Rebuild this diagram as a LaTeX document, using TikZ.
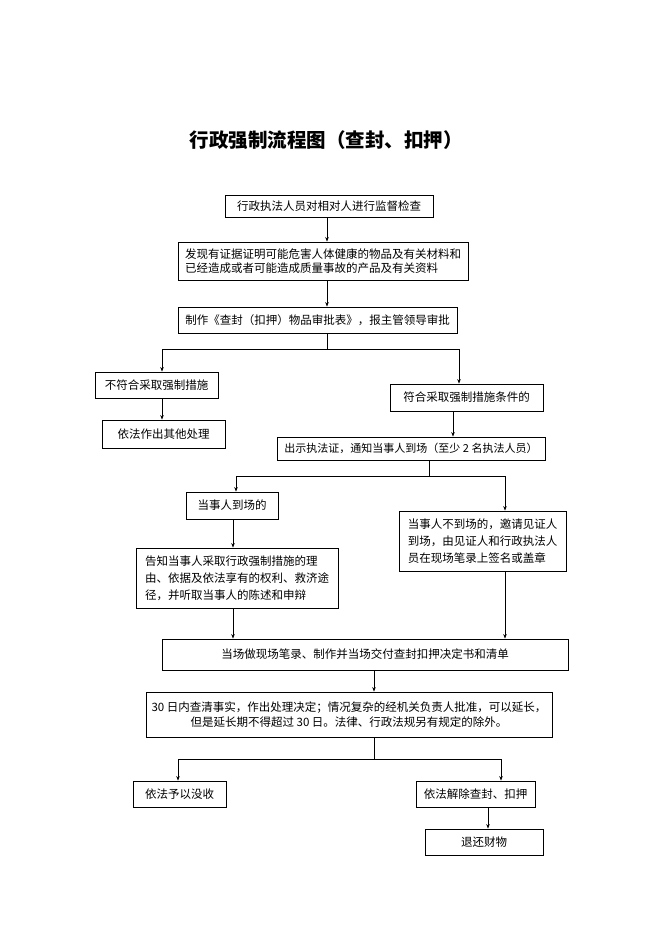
\documentclass[tikz,border=0pt]{standalone}
\usepackage{fontspec}
\setmainfont{Noto Sans CJK SC}
\usetikzlibrary{arrows.meta}
\tikzset{
  box/.style={draw=black, line width=0.9pt, inner xsep=0pt, inner ysep=0pt, font=\fontsize{11.5}{14.5}\selectfont, align=center},
  boxl/.style={box, align=left},
  arr/.style={line width=0.6pt, -{Stealth[length=4.5pt,width=3.5pt]}},
  ln/.style={line width=0.6pt}
}
\begin{document}
\begin{tikzpicture}[x=1pt,y=-1pt]
\useasboundingbox (0,0) rectangle (662,936);
\node[font=\fontsize{19.5}{22}\selectfont\bfseries] (title) at (326,140) {行政强制流程图（查封、扣押）};

\node[box, minimum width=208, minimum height=22] (b1) at (329,206) {行政执法人员对相对人进行监督检查};
\node[boxl, minimum width=290, minimum height=38] (b2) at (323,261) {发现有证据证明可能危害人体健康的物品及有关材料和\\已经造成或者可能造成质量事故的产品及有关资料};
\node[box, minimum width=279, minimum height=26] (b3) at (317.5,320) {制作《查封（扣押）物品审批表》，报主管领导审批};
\node[box, minimum width=123, minimum height=26] (b4) at (156.5,385) {不符合采取强制措施};
\node[box, minimum width=123, minimum height=28] (b5) at (163.5,434) {依法作出其他处理};
\node[box, minimum width=153, minimum height=27] (b6) at (466.5,397.5) {符合采取强制措施条件的};
\node[box, minimum width=268, minimum height=23, font=\fontsize{11}{14}\selectfont] (b7) at (411,448.5) {出示执法证，通知当事人到场（至少 2 名执法人员）};
\node[box, minimum width=92, minimum height=27] (b8) at (232,505.5) {当事人到场的};
\node[boxl, minimum width=202, minimum height=60, font=\fontsize{11.5}{17}\selectfont] (b9) at (237,578) {告知当事人采取行政强制措施的理\\由、依据及依法享有的权利、救济途\\径，并听取当事人的陈述和申辩};
\node[boxl, minimum width=167, minimum height=60, font=\fontsize{11.5}{17}\selectfont] (b10) at (482.5,541) {当事人不到场的，邀请见证人\\到场，由见证人和行政执法人\\员在现场笔录上签名或盖章};
\node[box, minimum width=406, minimum height=31] (b11) at (365,654.5) {当场做现场笔录、制作并当场交付查封扣押决定书和清单};
\node[box, minimum width=406, minimum height=45] (b12) at (349,714.5) {30 日内查清事实，作出处理决定；情况复杂的经机关负责人批准，可以延长，\\但是延长期不得超过 30 日。法律、行政法规另有规定的除外。};
\node[box, minimum width=93, minimum height=26] (b13) at (179.5,794) {依法予以没收};
\node[box, minimum width=119, minimum height=26] (b14) at (475.5,794) {依法解除查封、扣押};
\node[box, minimum width=118, minimum height=26] (b15) at (484,842) {退还财物};

% x positions of vertical connectors
\coordinate (xa) at (327,0);
\coordinate (xl1) at (162,0);
\coordinate (xr1) at (459,0);
\coordinate (xr2) at (453,0);
\coordinate (xm2) at (429,0);
\coordinate (xl2) at (236,0);
\coordinate (xl3) at (233,0);
\coordinate (xr3) at (505,0);
\coordinate (xm3) at (374,0);
\coordinate (xl4) at (178,0);
\coordinate (xr4) at (501,0);
\coordinate (xr5) at (488,0);
\coordinate (s1) at (327,349);
\coordinate (s2) at (429,476);
\coordinate (s3) at (374,759);

\draw[arr] (b1.south -| xa) -- (b2.north -| xa);
\draw[arr] (b2.south -| xa) -- (b3.north -| xa);
\draw[ln] (b3.south -| xa) -- (s1);
\draw[arr] (s1) -- (s1 -| xl1) -- (b4.north -| xl1);
\draw[arr] (s1) -- (s1 -| xr1) -- (b6.north -| xr1);
\draw[arr] (b4.south -| xl1) -- (b5.north -| xl1);
\draw[arr] (b6.south -| xr2) -- (b7.north -| xr2);
\draw[ln] (b7.south -| xm2) -- (s2);
\draw[arr] (s2) -- (s2 -| xl2) -- (b8.north -| xl2);
\draw[arr] (s2) -- (s2 -| xr3) -- (b10.north -| xr3);
\draw[arr] (b8.south -| xl3) -- (b9.north -| xl3);
\draw[arr] (b9.south -| xl3) -- (b11.north -| xl3);
\draw[arr] (b10.south -| xr3) -- (b11.north -| xr3);
\draw[arr] (b11.south -| xm3) -- (b12.north -| xm3);
\draw[ln] (b12.south -| xm3) -- (s3);
\draw[arr] (s3) -- (s3 -| xl4) -- (b13.north -| xl4);
\draw[arr] (s3) -- (s3 -| xr4) -- (b14.north -| xr4);
\draw[arr] (b14.south -| xr5) -- (b15.north -| xr5);
\end{tikzpicture}
\end{document}
